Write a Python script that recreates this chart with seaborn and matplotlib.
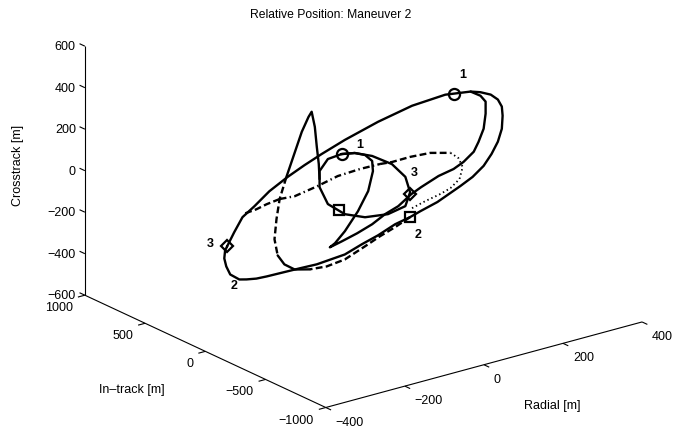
import matplotlib
matplotlib.use("Agg")
import matplotlib.pyplot as plt
import seaborn as sns
from mpl_toolkits.mplot3d import proj3d

sns.set_theme(style="white")
plt.rcParams['font.family'] = ['Liberation Sans', 'DejaVu Sans']
plt.rcParams['text.color'] = 'black'

# ---------------- data (metres); all paths lie in the in-track = 0 plane ----------------
radial_ticks = [-400, -200, 0, 200, 400]
intrack_ticks = [-1000, -500, 0, 500, 1000]
cross_ticks = [-600, -400, -200, 0, 200, 400, 600]

# large relative orbit (solid, closed)
outer_radial = [-345, -327, -306, -276, -238, -192, -149, -106, -47, 37, 123, 207, 228, 271,
                296, 322, 340, 350, 352, 350, 340, 324, 304, 276, 245, 187, 144, 118, 80, 37,
                -4, -47, -118, -161, -245, -271, -296, -314, -337, -347, -352, -350, -345]
outer_cross = [-123, -64, -2, 35, 88, 133, 168, 199, 237, 281, 314, 324, 318, 306,
               290, 265, 232, 193, 148, 86, 29, -22, -69, -108, -136, -183, -205, -220, -235, -266,
               -288, -315, -326, -323, -319, -316, -307, -298, -262, -218, -177, -140, -123]

# transfer path: inner arc -> point 3 -> teardrop -> point 1 (solid)
transfer_radial = [271, 296, 309, 309, 304, 291, 279, 253, 228, 190, 146, 121, 88, 55, 22, -16,
                   -55, -85, -72, -47, -14, 12, 24, 22, 4, -22, -55]
transfer_cross = [306, 273, 238, 180, 110, 53, 12, -24, -45, -59, -90, -111, -152, -173, -205,
                  -229, -248, -261, -248, -203, -124, -40, 50, 100, 138, 161, 173]

# small relative orbit (solid, closed)
small_radial = [-55, -22, 22, 72, 106, 118, 106, 62, 4, -47, -90, -111, -111, -90, -55]
small_cross = [173, 161, 124, 59, -20, -100, -161, -177, -162, -121, -50, 42, 120, 167, 173]

# spike path
spike_top_radial = [-111, -113, -118, -123, -131, -139, -156, -182, -195]
spike_top_cross = [81, 155, 240, 339, 416, 395, 332, 200, 134]
spike_mid_radial = [-195, -212, -220, -225, -217]
spike_mid_cross = [134, 37, -56, -150, -232]
spike_foot_radial = [-217, -200, -174, -136]
spike_foot_cross = [-232, -284, -322, -341]

# second orbit (dashed / dash-dot / dotted pieces)
dash_left_radial = [-299, -271, -245, -212]
dash_left_cross = [13, 18, 29, 37]
dashdot_radial = [-212, -174, -116, -65, -9, 42]
dashdot_cross = [37, 31, 50, 72, 77, 75]
dash_right_radial = [42, 72, 118, 169, 220]
dash_right_cross = [75, 69, 70, 63, 37]
dotted_radial = [220, 240, 251, 243, 220, 195, 156, 118]
dotted_cross = [37, 2, -47, -101, -133, -148, -163, -182]
dash_bottom_radial = [118, 80, 42, 4, -47, -93, -136]
dash_bottom_cross = [-220, -249, -273, -302, -339, -349, -341]

# event markers
circle_radial = [228, -55]
circle_cross = [318, 173]
square_radial = [118, -62]
square_cross = [-220, -94]
diamond_radial = [-345, 118]
diamond_cross = [-123, -109]

# event labels
event_labels = ['1', '1', '3', '3', '2', '2']
event_label_radial = [251, -9, 128, -388, 139, -327]
event_label_cross = [399, 198, -8, -86, -313, -316]

# ---------------- figure ----------------
fig = plt.figure(figsize=(6.77, 4.31), dpi=100)
ax = fig.add_axes([0.0787, -0.149, 0.8922, 1.4014], projection='3d', proj_type='ortho')
ax.set_box_aspect((1, 1, 0.67))
ax.view_init(elev=20.8, azim=-127.3)
ax.set_axis_off()

xmin, xmax = radial_ticks[0], radial_ticks[-1]
ymin, ymax = intrack_ticks[0], intrack_ticks[-1]
zmin, zmax = cross_ticks[0], cross_ticks[-1]

LW = 1.7
dashed = (0, (2.9, 1.4))
dashdot = (0, (2.9, 1.4, 0.6, 1.4))
dotted = (0, (0.8, 1.6))


def path(r, c, style='-', width=LW):
    ax.plot(r, c, zs=0, zdir='y', color='black', lw=width, linestyle=style,
            solid_capstyle='round', dash_capstyle='butt', solid_joinstyle='round')


path(outer_radial, outer_cross)
path(transfer_radial, transfer_cross)
path(small_radial, small_cross)
path(spike_top_radial, spike_top_cross)
path(spike_mid_radial, spike_mid_cross, dashed)
path(spike_foot_radial, spike_foot_cross)
path(dash_left_radial, dash_left_cross, dashed)
path(dashdot_radial, dashdot_cross, dashdot)
path(dash_right_radial, dash_right_cross, dashed)
path(dotted_radial, dotted_cross, dotted, 1.3)
path(dash_bottom_radial, dash_bottom_cross, dashed)

mk = dict(color='black', linestyle='none', markerfacecolor='none', markeredgewidth=1.6)
ax.plot(circle_radial, circle_cross, zs=0, zdir='y', marker='o', markersize=8, **mk)
ax.plot(square_radial, square_cross, zs=0, zdir='y', marker='s', markersize=7, **mk)
ax.plot(diamond_radial, diamond_cross, zs=0, zdir='y', marker='D', markersize=6, **mk)

# ---------------- axes frame (three edges, MATLAB style) ----------------
ax_kw = dict(color='black', lw=0.8, solid_capstyle='butt')
ax.plot([xmin, xmax], [ymin, ymin], [zmin, zmin], **ax_kw)
ax.plot([xmin, xmin], [ymin, ymax], [zmin, zmin], **ax_kw)
ax.plot([xmin, xmin], [ymax, ymax], [zmin, zmax], **ax_kw)

tk = 0.022
for t in radial_ticks:
    ax.plot([t, t], [ymin, ymin - tk * (ymax - ymin)], [zmin, zmin], **ax_kw)
for t in intrack_ticks:
    ax.plot([xmin, xmin - tk * (xmax - xmin)], [t, t], [zmin, zmin], **ax_kw)
for t in cross_ticks:
    ax.plot([xmin, xmin], [ymax, ymax + tk * (ymax - ymin)], [t, t], **ax_kw)

ax.set_xlim(xmin, xmax)
ax.set_ylim(ymin, ymax)
ax.set_zlim(zmin, zmax)

# projection used to anchor 2-D texts at 3-D data points
M = ax.get_proj()


def to2d(x, y, z):
    xs, ys, _ = proj3d.proj_transform(x, y, z, M)
    return float(xs), float(ys)


def fmt(v):
    return str(v).replace('-', '\u2212')


tfs = 9
for t in radial_ticks:
    ax.annotate(fmt(t), xy=to2d(t, ymin, zmin), xycoords='data', xytext=(10, -14),
                textcoords='offset pixels', ha='left', va='center', fontsize=tfs, color='black')
for t in intrack_ticks:
    ax.annotate(fmt(t), xy=to2d(xmin, t, zmin), xycoords='data', xytext=(-12, -12),
                textcoords='offset pixels', ha='right', va='center', fontsize=tfs, color='black')
for t in cross_ticks:
    ax.annotate(fmt(t), xy=to2d(xmin, ymax, t), xycoords='data', xytext=(-9, 0),
                textcoords='offset pixels', ha='right', va='center', fontsize=tfs, color='black')

for s, r, c in zip(event_labels, event_label_radial, event_label_cross):
    ax.annotate(s, xy=to2d(r, 0, c), xycoords='data', ha='center', va='center',
                fontsize=9, fontweight='bold', color='black')

fig.text(0.4889, 0.9652, 'Relative Position: Maneuver 2', ha='center', va='center',
         fontsize=8.7, color='black')
fig.text(0.0266, 0.6172, 'Crosstrack [m]', rotation=90, ha='center', va='center',
         fontsize=9, color='black')
fig.text(0.195, 0.0951, 'In\u2013track [m]', ha='center', va='center', fontsize=9, color='black')
fig.text(0.8154, 0.058, 'Radial [m]', ha='center', va='center', fontsize=9, color='black')

fig.savefig('out.png', dpi=100)
